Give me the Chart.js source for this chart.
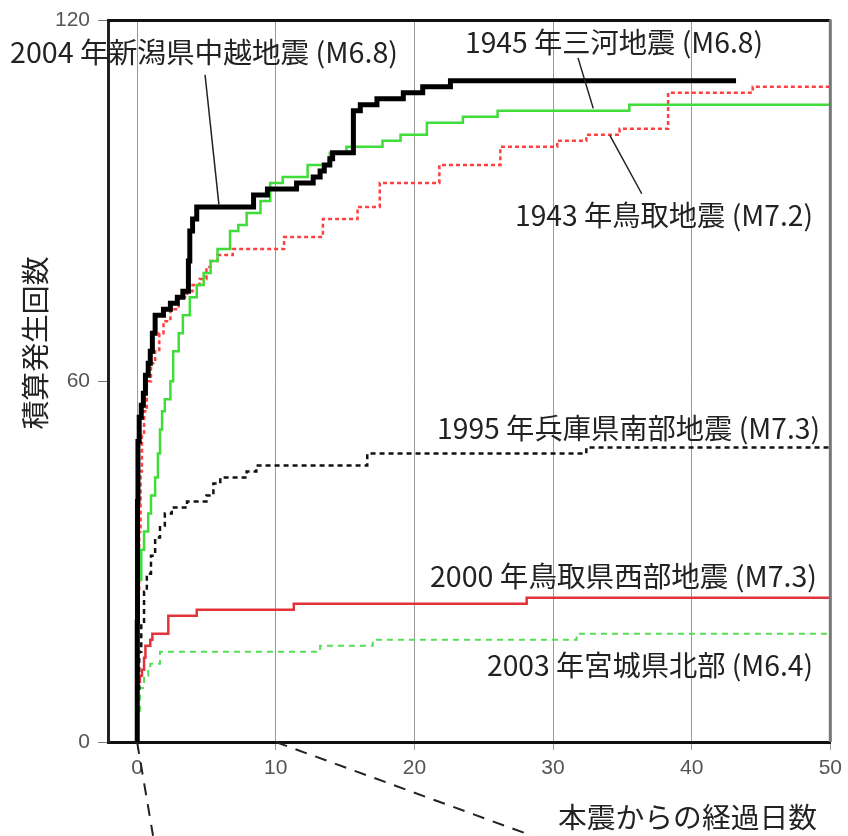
<!DOCTYPE html>
<html lang="ja">
<head>
<meta charset="utf-8">
<script src="https://cdn.jsdelivr.net/npm/chart.js@4"></script>
<style>
  html, body { margin: 0; padding: 0; background: #fff; }
  canvas { display: block; }
</style>
</head>
<body>
<canvas id="chart" width="848" height="836"></canvas>
<script>
const xTickValues = [0, 10, 20, 30, 40, 50];
const yTickValues = [0, 60, 120];

// 2004 新潟県中越地震
const niigataDays = [0, 0.01, 0.03, 0.06, 0.15, 0.3, 0.45, 0.6, 0.8, 0.95, 1.1, 1.3, 1.9, 2.4, 2.9, 3.3, 3.7, 3.8, 4.0, 4.3, 8.4, 9.4, 11.5, 12.7, 13.2, 13.5, 13.9, 14.1, 15.6, 16.1, 17.3, 19.2, 20.6, 22.6, 43.2];
const niigataCounts = [0, 20, 40, 50, 54, 56, 58, 61, 63, 65, 68, 71, 72, 73, 74, 75, 80, 85, 87, 89, 91, 92, 93, 94, 95, 96, 97, 98, 105, 106, 107, 108, 109, 110, 110];

// 1945 三河地震
const mikawaDays = [0, 0.05, 0.1, 0.3, 0.5, 0.8, 1.0, 1.3, 1.5, 1.65, 1.8, 2.0, 2.4, 2.6, 3.0, 3.3, 3.8, 4.3, 4.8, 5.3, 5.8, 6.7, 7.3, 7.9, 8.9, 9.6, 10.5, 12.3, 13.9, 15.1, 17.7, 19.0, 20.9, 23.5, 26.0, 35.5, 50];
const mikawaCounts = [0, 15, 27, 32, 35, 38, 41, 44, 48, 52, 55, 57, 60, 65, 68, 71, 74, 76, 78, 80, 82, 85, 86, 88, 90, 93, 94, 96, 98, 99, 100, 101, 103, 104, 105, 106, 106];

// 1943 鳥取地震
const tottoriDays = [0, 0.03, 0.08, 0.15, 0.25, 0.35, 0.5, 0.7, 1.0, 1.3, 1.6, 1.9, 2.4, 3.0, 3.6, 4.0, 4.5, 5.0, 5.3, 5.8, 6.9, 10.6, 13.4, 15.9, 17.5, 21.8, 26.2, 30.3, 32.4, 34.8, 38.3, 44.4, 50];
const tottoriCounts = [0, 10, 25, 35, 45, 51, 55, 60, 63, 65, 68, 70, 72, 74, 75, 76, 77, 79, 80, 81, 82, 84, 87, 89, 93, 96, 99, 100, 101, 102, 108, 109, 109];

// 1995 兵庫県南部地震
const hyogoDays = [0, 0.05, 0.15, 0.3, 0.5, 0.7, 1.0, 1.3, 1.65, 2.0, 2.5, 3.6, 5.0, 5.5, 6.0, 7.9, 8.6, 16.6, 32.4, 50];
const hyogoCounts = [0, 8, 15, 20, 25, 28, 31, 34, 36, 38, 39, 40, 41, 43, 44, 45, 46, 48, 49, 49];

// 2000 鳥取県西部地震
const tottoriWestDays = [0, 0.02, 0.05, 0.2, 0.35, 0.5, 0.6, 0.95, 1.1, 2.25, 4.3, 11.3, 28.1, 50];
const tottoriWestCounts = [0, 5, 10, 11, 12, 14, 16, 17, 18, 21, 22, 23, 24, 24];

// 2003 宮城県北部
const miyagiDays = [0, 0.05, 0.2, 0.5, 0.8, 0.95, 1.65, 13.2, 17.0, 31.7, 50];
const miyagiCounts = [0, 5, 9, 11, 12, 13, 15, 16, 17, 18, 18];

const seriesLabels = [
  "2004 年新潟県中越地震 (M6.8)",
  "1945 年三河地震 (M6.8)",
  "1943 年鳥取地震 (M7.2)",
  "1995 年兵庫県南部地震 (M7.3)",
  "2000 年鳥取県西部地震 (M7.3)",
  "2003 年宮城県北部 (M6.4)",
];
const xTitle = "本震からの経過日数";
const yTitle = "積算発生回数";

function toPoints(days, counts) {
  return days.map((d, i) => ({ x: d, y: counts[i] }));
}

const LABEL_FONT = '28px "Noto Sans CJK JP", "Noto Sans CJK SC", sans-serif';

// text boxes: left, right, vertical centre (pixels)
const labelBoxes = [
  { text: seriesLabels[0], left: 10, right: 398, cy: 52 },
  { text: seriesLabels[1], left: 465, right: 763, cy: 42 },
  { text: seriesLabels[2], left: 515, right: 813, cy: 215 },
  { text: seriesLabels[3], left: 437, right: 820, cy: 428 },
  { text: seriesLabels[4], left: 430, right: 817, cy: 576 },
  { text: seriesLabels[5], left: 487, right: 813, cy: 665 },
  { text: xTitle, left: 558, right: 817, cy: 817 },
];

// leader lines, in chart units
const leaders = [
  [4.9, 111, 5.9, 89.4],
  [31.8, 113.8, 32.9, 105.4],
  [34.1, 100.9, 36.4, 91.2],
];
// zoom guide lines (dashed) leaving the plot, chart units
const guides = [
  [0, 0, 1.15, -15.6],
  [10, 0, 28.5, -15.6],
];

function fitText(ctx, box) {
  const w = ctx.measureText(box.text).width;
  const sx = (box.right - box.left) / w;
  ctx.save();
  ctx.translate(box.left, box.cy);
  ctx.scale(sx, 1);
  ctx.fillText(box.text, 0, 0);
  ctx.restore();
}

const decorPlugin = {
  id: "decor",
  afterDatasetsDraw(chart) {
    const ctx = chart.ctx;
    const xs = chart.scales.x;
    const ys = chart.scales.y;
    const area = chart.chartArea;
    ctx.save();

    // top and right frame
    ctx.lineWidth = 3;
    ctx.strokeStyle = "#111";
    ctx.beginPath();
    ctx.moveTo(area.left, area.top);
    ctx.lineTo(area.right, area.top);
    ctx.stroke();
    ctx.strokeStyle = "#777";
    ctx.beginPath();
    ctx.moveTo(area.right, area.top - 1);
    ctx.lineTo(area.right, area.bottom);
    ctx.stroke();

    // leader lines
    ctx.strokeStyle = "#222";
    ctx.lineWidth = 1.5;
    leaders.forEach(([x1, y1, x2, y2]) => {
      ctx.beginPath();
      ctx.moveTo(xs.getPixelForValue(x1), ys.getPixelForValue(y1));
      ctx.lineTo(xs.getPixelForValue(x2), ys.getPixelForValue(y2));
      ctx.stroke();
    });

    // dashed guides
    ctx.lineWidth = 2;
    ctx.setLineDash([12, 9]);
    guides.forEach(([x1, y1, x2, y2]) => {
      ctx.beginPath();
      ctx.moveTo(xs.getPixelForValue(x1), ys.getPixelForValue(y1));
      ctx.lineTo(xs.getPixelForValue(x2), ys.getPixelForValue(y2));
      ctx.stroke();
    });
    ctx.setLineDash([]);

    // labels
    ctx.font = LABEL_FONT;
    ctx.fillStyle = "#222";
    ctx.textAlign = "left";
    ctx.textBaseline = "middle";
    labelBoxes.forEach((b) => fitText(ctx, b));

    // y axis title
    ctx.save();
    ctx.translate(35, 343);
    ctx.rotate(-Math.PI / 2);
    const w = ctx.measureText(yTitle).width;
    ctx.scale(173 / w, 1);
    ctx.textAlign = "center";
    ctx.fillText(yTitle, 0, 0);
    ctx.restore();

    ctx.restore();
  },
};

const chartData = {
  datasets: [
    {
      label: seriesLabels[0],
      data: toPoints(niigataDays, niigataCounts),
      borderColor: "#000",
      borderWidth: 5,
      order: 0,
    },
    {
      label: seriesLabels[1],
      data: toPoints(mikawaDays, mikawaCounts),
      borderColor: "#3fdc3a",
      borderWidth: 2.5,
      order: 1,
    },
    {
      label: seriesLabels[4],
      data: toPoints(tottoriWestDays, tottoriWestCounts),
      borderColor: "#e2333b",
      borderWidth: 2.5,
      order: 2,
    },
    {
      label: seriesLabels[2],
      data: toPoints(tottoriDays, tottoriCounts),
      borderColor: "#ff4040",
      borderWidth: 2.5,
      borderDash: [4, 3],
      order: 3,
    },
    {
      label: seriesLabels[3],
      data: toPoints(hyogoDays, hyogoCounts),
      borderColor: "#111",
      borderWidth: 2.5,
      borderDash: [5, 4],
      order: 4,
    },
    {
      label: seriesLabels[5],
      data: toPoints(miyagiDays, miyagiCounts),
      borderColor: "#55dd55",
      borderWidth: 2,
      borderDash: [6, 5],
      order: 5,
    },
  ],
};

const chartConfig = {
  type: "line",
  data: chartData,
  options: {
    responsive: false,
    animation: false,
    devicePixelRatio: 1,
    layout: {
      padding: { top: 20, right: 17, left: 0, bottom: 0 },
    },
    elements: {
      line: { stepped: "before", tension: 0, fill: false },
      point: { radius: 0, hoverRadius: 0 },
    },
    plugins: {
      legend: { display: false },
      tooltip: { enabled: false },
    },
    scales: {
      x: {
        type: "linear",
        min: -2.1,
        max: 50,
        afterBuildTicks: (scale) => {
          scale.ticks = xTickValues.map((v) => ({ value: v }));
        },
        afterFit: (scale) => {
          scale.height = 94;
        },
        grid: {
          color: "#9a9a9a",
          lineWidth: 1,
          tickLength: 8,
        },
        border: {
          color: "#111",
          width: 3,
        },
        ticks: {
          color: "#555",
          padding: 6,
          maxRotation: 0,
          font: { family: '"Liberation Sans", sans-serif', size: 21 },
        },
      },
      y: {
        type: "linear",
        min: 0,
        max: 120,
        afterBuildTicks: (scale) => {
          scale.ticks = yTickValues.map((v) => ({ value: v }));
        },
        afterFit: (scale) => {
          scale.width = 108;
        },
        grid: {
          drawOnChartArea: false,
          color: "#777",
          tickLength: 10,
        },
        border: {
          color: "#222",
          width: 3,
        },
        ticks: {
          color: "#555",
          padding: 8,
          font: { family: '"Liberation Sans", sans-serif', size: 21 },
        },
      },
    },
  },
  plugins: [decorPlugin],
};

const chart = new Chart(document.getElementById("chart"), chartConfig);
</script>
</body>
</html>
